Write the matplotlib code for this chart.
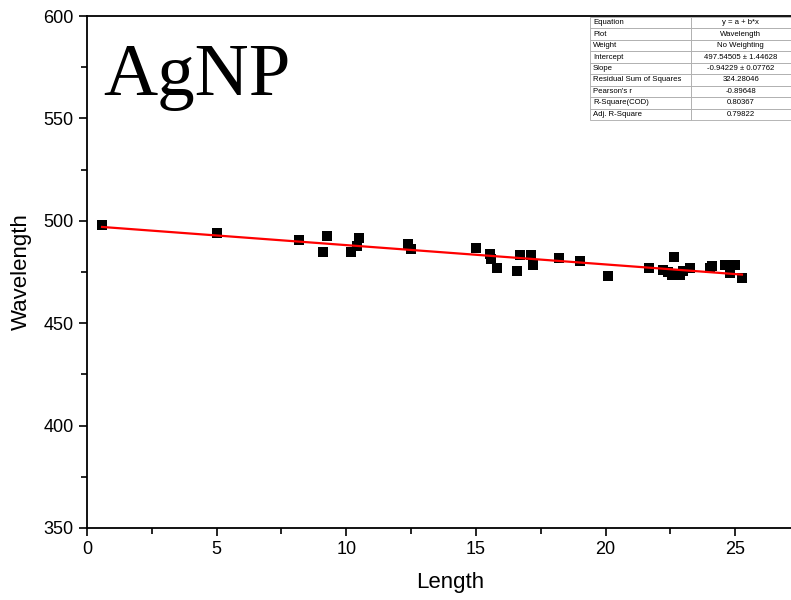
import matplotlib
matplotlib.use("Agg")
from matplotlib import pyplot as plt
from matplotlib.ticker import MultipleLocator

# data
length = [0.58, 5.0, 8.18, 9.1, 9.26, 10.2, 10.4, 10.5, 12.38, 12.5,
          15.0, 15.55, 15.6, 15.81, 16.6, 16.7, 17.12, 17.2, 18.2, 19.0,
          20.1, 21.69, 22.23, 22.4, 22.56, 22.62, 22.88, 23.0, 23.26,
          24.04, 24.1, 24.6, 24.8, 25.0, 25.26]
wavelength = [498.0, 494.0, 490.6, 485.0, 492.6, 484.8, 487.7, 491.6, 488.7, 486.2,
              486.7, 484.0, 481.5, 476.8, 475.6, 483.3, 483.3, 478.4, 481.7, 480.5,
              473.0, 476.8, 476.0, 475.0, 473.5, 482.5, 473.5, 475.5, 476.8,
              476.8, 478.0, 478.4, 474.4, 478.4, 472.0]
intercept = 497.54505
slope = -0.94229

row_names = ["Equation", "Plot", "Weight", "Intercept", "Slope",
             "Residual Sum of Squares", "Pearson's r", "R-Square(COD)", "Adj. R-Square"]
row_values = ["y = a + b*x", "Wavelength", "No Weighting", "497.54505 \u00b1 1.44628",
              "-0.94229 \u00b1 0.07762", "324.28046", "-0.89648", "0.80367", "0.79822"]

plt.rcParams['font.family'] = ['Liberation Sans', 'DejaVu Sans']

fig = plt.figure(figsize=(7.91, 6.0), dpi=100)
W, H = 791.0, 600.0
ax = fig.add_axes([87 / W, 72 / H, (813 - 87) / W, 512 / H])

ax.scatter(length, wavelength, marker='s', s=52, color='black', zorder=3, linewidths=0)
xs = [min(length), max(length)]
ax.plot(xs, [intercept + slope * x for x in xs], color='red', lw=1.6, zorder=4)

ax.set_xlim(0, 28)
ax.set_ylim(350, 600)
ax.xaxis.set_major_locator(MultipleLocator(5))
ax.xaxis.set_minor_locator(MultipleLocator(2.5))
ax.yaxis.set_major_locator(MultipleLocator(50))
ax.yaxis.set_minor_locator(MultipleLocator(25))
ax.tick_params(which='major', direction='out', length=6, width=1.2, labelsize=13)
ax.tick_params(which='minor', direction='out', length=4, width=1.2)
for s in ax.spines.values():
    s.set_linewidth(1.3)
ax.set_xlabel("Length", fontsize=16, labelpad=10)
ax.set_ylabel("Wavelength", fontsize=16, labelpad=8)

fig.text(103 / W, 1 - 95 / H, "AgNP", family='Liberation Serif', fontsize=54, va='baseline')

# fit results table
tax = fig.add_axes([590 / W, 1 - 120 / H, 201 / W, 103 / H])
tax.axis('off')
tab = tax.table(cellText=[[a, b] for a, b in zip(row_names, row_values)],
                colWidths=[0.5, 0.5], bbox=[0, 0, 1, 1], cellLoc='left')
tab.auto_set_font_size(False)
for (r, c), cell in tab.get_celld().items():
    cell.set_fontsize(5.6)
    cell.set_edgecolor('#aaaaaa')
    cell.set_linewidth(0.6)
    cell.set_facecolor('white')
    cell.PAD = 0.03
    if c == 1:
        cell.get_text().set_ha('center')
        cell._loc = 'center'

fig.savefig("out.png", dpi=100)
